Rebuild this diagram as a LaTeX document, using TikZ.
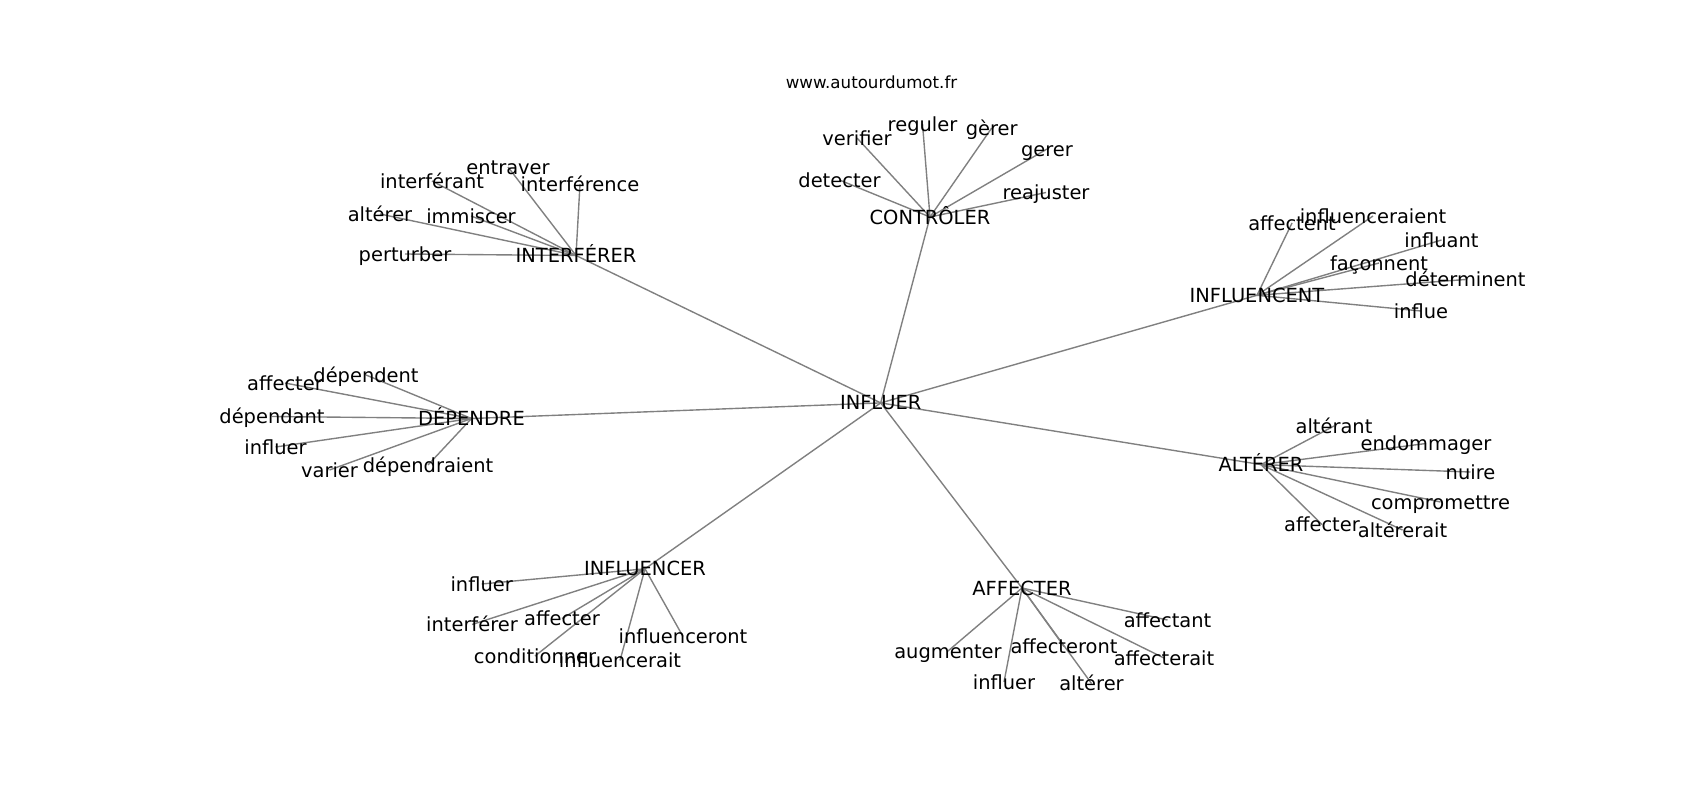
\documentclass[tikz,border=0pt]{standalone}
\usepackage{fontspec}
\setmainfont{DejaVu Sans}
\usetikzlibrary{backgrounds}

\begin{document}
\begin{tikzpicture}[x=0.75pt, y=-0.75pt,
    every node/.style={font=\fontsize{14.58}{17}\selectfont, inner sep=0pt, text height=10.6pt, text depth=0pt},
    site/.style={font=\fontsize{12.5}{14}\selectfont, text height=8.4pt},
    link/.style={draw=gray, line width=1.04pt}]
    \node (site) [site] at (871.5,82.7) {www.autourdumot.fr};
    % hub and groups
    \node (influer) at (880.7,402.9) {INFLUER};
    \node (controler) at (930,217) {CONTRÔLER};
    \node (interferer) at (576,255.5) {INTERFÉRER};
    \node (influencent) at (1257,295.3) {INFLUENCENT};
    \node (dependre) at (471.5,418.5) {DÉPENDRE};
    \node (alterer) at (1261,464.6) {ALTÉRER};
    \node (influencer) at (645,568.8) {INFLUENCER};
    \node (affecter) at (1022,588) {AFFECTER};
    % CONTRÔLER
    \node (ct1) at (857,138) {verifier};
    \node (ct2) at (922.5,124) {reguler};
    \node (ct3) at (991.7,128) {gèrer};
    \node (ct4) at (1047,149) {gerer};
    \node (ct5) at (1046,192.5) {reajuster};
    \node (ct6) at (839.5,180) {detecter};
    % INTERFÉRER
    \node (it1) at (508,167) {entraver};
    \node (it2) at (432,181) {interférant};
    \node (it3) at (580,184) {interférence};
    \node (it4) at (380,214) {altérer};
    \node (it5) at (471,216) {immiscer};
    \node (it6) at (405,254) {perturber};
    % INFLUENCENT
    \node (in1) at (1292,223) {affectent};
    \node (in2) at (1373,216) {influenceraient};
    \node (in3) at (1441.5,240) {influant};
    \node (in4) at (1379,263) {façonnent};
    \node (in5) at (1465.5,279.5) {déterminent};
    \node (in6) at (1421,311) {influe};
    % DÉPENDRE
    \node (dp1) at (285,383) {affecter};
    \node (dp2) at (366,375) {dépendent};
    \node (dp3) at (272,416.5) {dépendant};
    \node (dp4) at (275.5,447) {influer};
    \node (dp5) at (329.5,470) {varier};
    \node (dp6) at (428,465) {dépendraient};
    % ALTÉRER
    \node (al1) at (1334,426) {altérant};
    \node (al2) at (1426,443.5) {endommager};
    \node (al3) at (1470.5,472) {nuire};
    \node (al4) at (1440.5,502) {compromettre};
    \node (al5) at (1322,524.5) {affecter};
    \node (al6) at (1402.5,530) {altérerait};
    % INFLUENCER
    \node (ir1) at (481.7,584) {influer};
    \node (ir2) at (472,624.5) {interférer};
    \node (ir3) at (562,618.5) {affecter};
    \node (ir4) at (535,656) {conditionner};
    \node (ir5) at (620,660.5) {influencerait};
    \node (ir6) at (683,636.5) {influenceront};
    % AFFECTER
    \node (af1) at (1167.5,620) {affectant};
    \node (af2) at (948,651) {augmenter};
    \node (af3) at (1064,646.5) {affecteront};
    \node (af4) at (1164,658) {affecterait};
    \node (af5) at (1004,682) {influer};
    \node (af6) at (1091.5,683.5) {altérer};
    \begin{scope}[on background layer]
        \fill[white] (0,0) rectangle (1700,800);
        \draw[link] (influer.center) -- (controler.center);
        \draw[link] (influer.center) -- (interferer.center);
        \draw[link] (influer.center) -- (influencent.center);
        \draw[link] (influer.center) -- (dependre.center);
        \draw[link] (influer.center) -- (alterer.center);
        \draw[link] (influer.center) -- (influencer.center);
        \draw[link] (influer.center) -- (affecter.center);
        \draw[link] (controler.center) -- (ct1.center);
        \draw[link] (controler.center) -- (ct2.center);
        \draw[link] (controler.center) -- (ct3.center);
        \draw[link] (controler.center) -- (ct4.center);
        \draw[link] (controler.center) -- (ct5.center);
        \draw[link] (controler.center) -- (ct6.center);
        \draw[link] (interferer.center) -- (it1.center);
        \draw[link] (interferer.center) -- (it2.center);
        \draw[link] (interferer.center) -- (it3.center);
        \draw[link] (interferer.center) -- (it4.center);
        \draw[link] (interferer.center) -- (it5.center);
        \draw[link] (interferer.center) -- (it6.center);
        \draw[link] (influencent.center) -- (in1.center);
        \draw[link] (influencent.center) -- (in2.center);
        \draw[link] (influencent.center) -- (in3.center);
        \draw[link] (influencent.center) -- (in4.center);
        \draw[link] (influencent.center) -- (in5.center);
        \draw[link] (influencent.center) -- (in6.center);
        \draw[link] (dependre.center) -- (dp1.center);
        \draw[link] (dependre.center) -- (dp2.center);
        \draw[link] (dependre.center) -- (dp3.center);
        \draw[link] (dependre.center) -- (dp4.center);
        \draw[link] (dependre.center) -- (dp5.center);
        \draw[link] (dependre.center) -- (dp6.center);
        \draw[link] (alterer.center) -- (al1.center);
        \draw[link] (alterer.center) -- (al2.center);
        \draw[link] (alterer.center) -- (al3.center);
        \draw[link] (alterer.center) -- (al4.center);
        \draw[link] (alterer.center) -- (al5.center);
        \draw[link] (alterer.center) -- (al6.center);
        \draw[link] (influencer.center) -- (ir1.center);
        \draw[link] (influencer.center) -- (ir2.center);
        \draw[link] (influencer.center) -- (ir3.center);
        \draw[link] (influencer.center) -- (ir4.center);
        \draw[link] (influencer.center) -- (ir5.center);
        \draw[link] (influencer.center) -- (ir6.center);
        \draw[link] (affecter.center) -- (af1.center);
        \draw[link] (affecter.center) -- (af2.center);
        \draw[link] (affecter.center) -- (af3.center);
        \draw[link] (affecter.center) -- (af4.center);
        \draw[link] (affecter.center) -- (af5.center);
        \draw[link] (affecter.center) -- (af6.center);
    \end{scope}
\end{tikzpicture}
\end{document}
